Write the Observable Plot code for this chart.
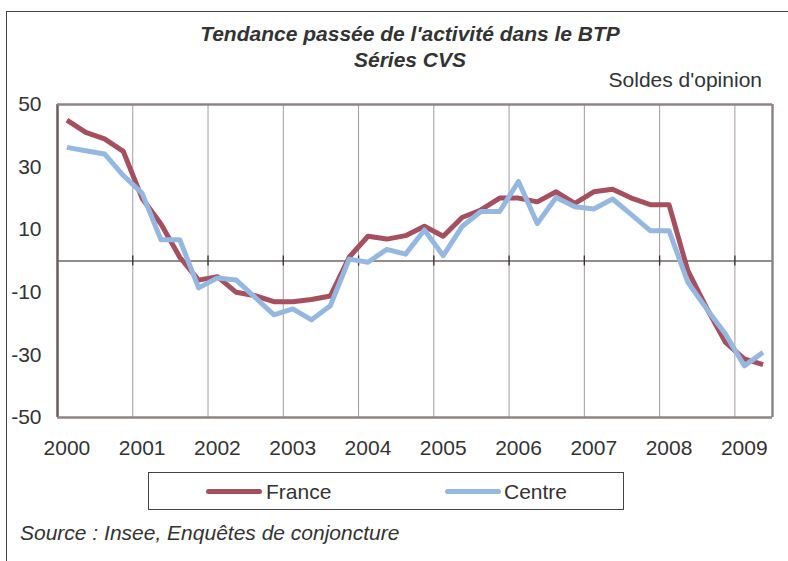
<!DOCTYPE html>
<html><head><meta charset="utf-8">
<script src="https://cdn.jsdelivr.net/npm/d3@7"></script>
<script src="https://cdn.jsdelivr.net/npm/@observablehq/plot@0.6"></script>
<style>
body{margin:0;background:#fff;font-family:"Liberation Sans",Arial,sans-serif;color:#333;}
#wrap{position:relative;width:788px;height:561px;overflow:hidden;background:#fff;}
#border{position:absolute;left:6px;top:11px;width:800px;height:600px;border-left:1.5px solid #444;border-top:1.5px solid #444;}
.t{position:absolute;font-size:21px;line-height:21px;white-space:nowrap;}
#chart{position:absolute;left:0;top:0;}
#legend{position:absolute;left:148px;top:472px;width:476px;height:38px;border:1px solid #444;box-sizing:border-box;}
.sw{position:absolute;height:5px;border-radius:3px;width:56px;}
</style></head><body>
<div id="wrap">
<div id="border"></div>
<div id="chart"></div>
<div class="t" style="left:0;width:820px;text-align:center;top:23px;font-weight:bold;font-style:italic;">Tendance passée de l'activité dans le BTP</div>
<div class="t" style="left:0;width:820px;text-align:center;top:49px;font-weight:bold;font-style:italic;">Séries CVS</div>
<div class="t" style="right:26px;top:69px;">Soldes d'opinion</div>
<div id="legend"></div>
<div class="t" style="left:20px;top:522px;font-style:italic;">Source : Insee, Enquêtes de conjoncture</div>
</div>
<script>
const years = [2000,2001,2002,2003,2004,2005,2006,2007,2008,2009];
const yTicks = [50,30,10,-10,-30,-50];
const seriesNames = ["France","Centre"];
const seriesColors = ["#a64f5f","#95b8e3"];
const france = [45, 41.1, 39, 35, 20, 11.8, 1.2, -6.1, -5.0, -10.0, -11.1, -13.0, -13.0, -12.3, -11.2, 1.2, 7.9, 7.0, 8.1, 11.1, 7.9, 13.9, 16.3, 20.1, 20.1, 18.9, 22.1, 18.4, 22.1, 22.9, 20.1, 18.0, 18.0, -3.1, -15, -26.0, -31.3, -33.1];
const centre = [36.3, 35.2, 34.2, 27.3, 21.6, 6.8, 6.8, -8.6, -5.4, -6.1, -11.6, -17.2, -15.3, -18.8, -14.3, 0.6, -0.4, 3.7, 2.2, 9.9, 1.7, 11.0, 15.8, 15.8, 25.4, 12.0, 20.3, 17.3, 16.6, 19.8, 14.8, 9.7, 9.7, -6.8, -15.3, -23.3, -33.5, -29.2];

const nQ = france.length;
const rows = [];
[france, centre].forEach((arr, s) => arr.forEach((v, i) => rows.push({q: i + 0.5, v, s: seriesNames[s]})));
const yearBounds = years.slice(1).map((y, k) => (k + 1) * 4);
const yearPos = years.map((y, k) => k * 4 + 0.5);

const plot = Plot.plot({
  width: 788, height: 470,
  marginLeft: 57, marginRight: 16, marginTop: 104, marginBottom: 53,
  x: {type: "linear", domain: [0, nQ], label: null},
  y: {domain: [-50, 50], label: null},
  color: {domain: seriesNames, range: seriesColors},
  style: {fontFamily: "'Liberation Sans', Arial, sans-serif", fontSize: "21px", color: "#333"},
  marks: [
    Plot.ruleX(yearBounds, {y1: -50, y2: 50, stroke: "#a39a9a", strokeWidth: 1}),
    Plot.ruleY([0], {stroke: "#6e6666", strokeWidth: 1.3}),
    Plot.ruleX(yearBounds, {y1: -1.6, y2: 1.6, stroke: "#333", strokeWidth: 1.3}),
    Plot.line(rows, {x: "q", y: "v", z: "s", stroke: "s", strokeWidth: 5, strokeLinejoin: "round", strokeLinecap: "butt"}),
    Plot.ruleX([0], {y1: -50, y2: 50, stroke: "#6b5b5b", strokeWidth: 2.5}),
    Plot.ruleX([nQ], {y1: -50, y2: 50, stroke: "#918383", strokeWidth: 2.5}),
    Plot.ruleY([-50, 50], {stroke: "#918383", strokeWidth: 2.5}),
    Plot.axisY({ticks: yTicks, tickSize: 0, tickPadding: 16, label: null, tickFormat: d => String(d), fill: "#333"}),
    Plot.axisX({ticks: yearPos, tickSize: 0, tickPadding: 23, label: null, tickFormat: d => String(years[Math.round((d - 0.5) / 4)]), fill: "#333"})
  ]
});
document.getElementById("chart").appendChild(plot);

const legend = document.getElementById("legend");
const legX = [[57, 117], [296, 355]];
seriesNames.forEach((n, i) => {
  const sw = document.createElement("div");
  sw.className = "sw";
  sw.style.left = legX[i][0] + "px";
  sw.style.top = "16px";
  sw.style.background = seriesColors[i];
  legend.appendChild(sw);
  const t = document.createElement("div");
  t.className = "t";
  t.style.left = legX[i][1] + "px";
  t.style.top = "8px";
  t.textContent = n;
  legend.appendChild(t);
});
</script>
</body></html>
